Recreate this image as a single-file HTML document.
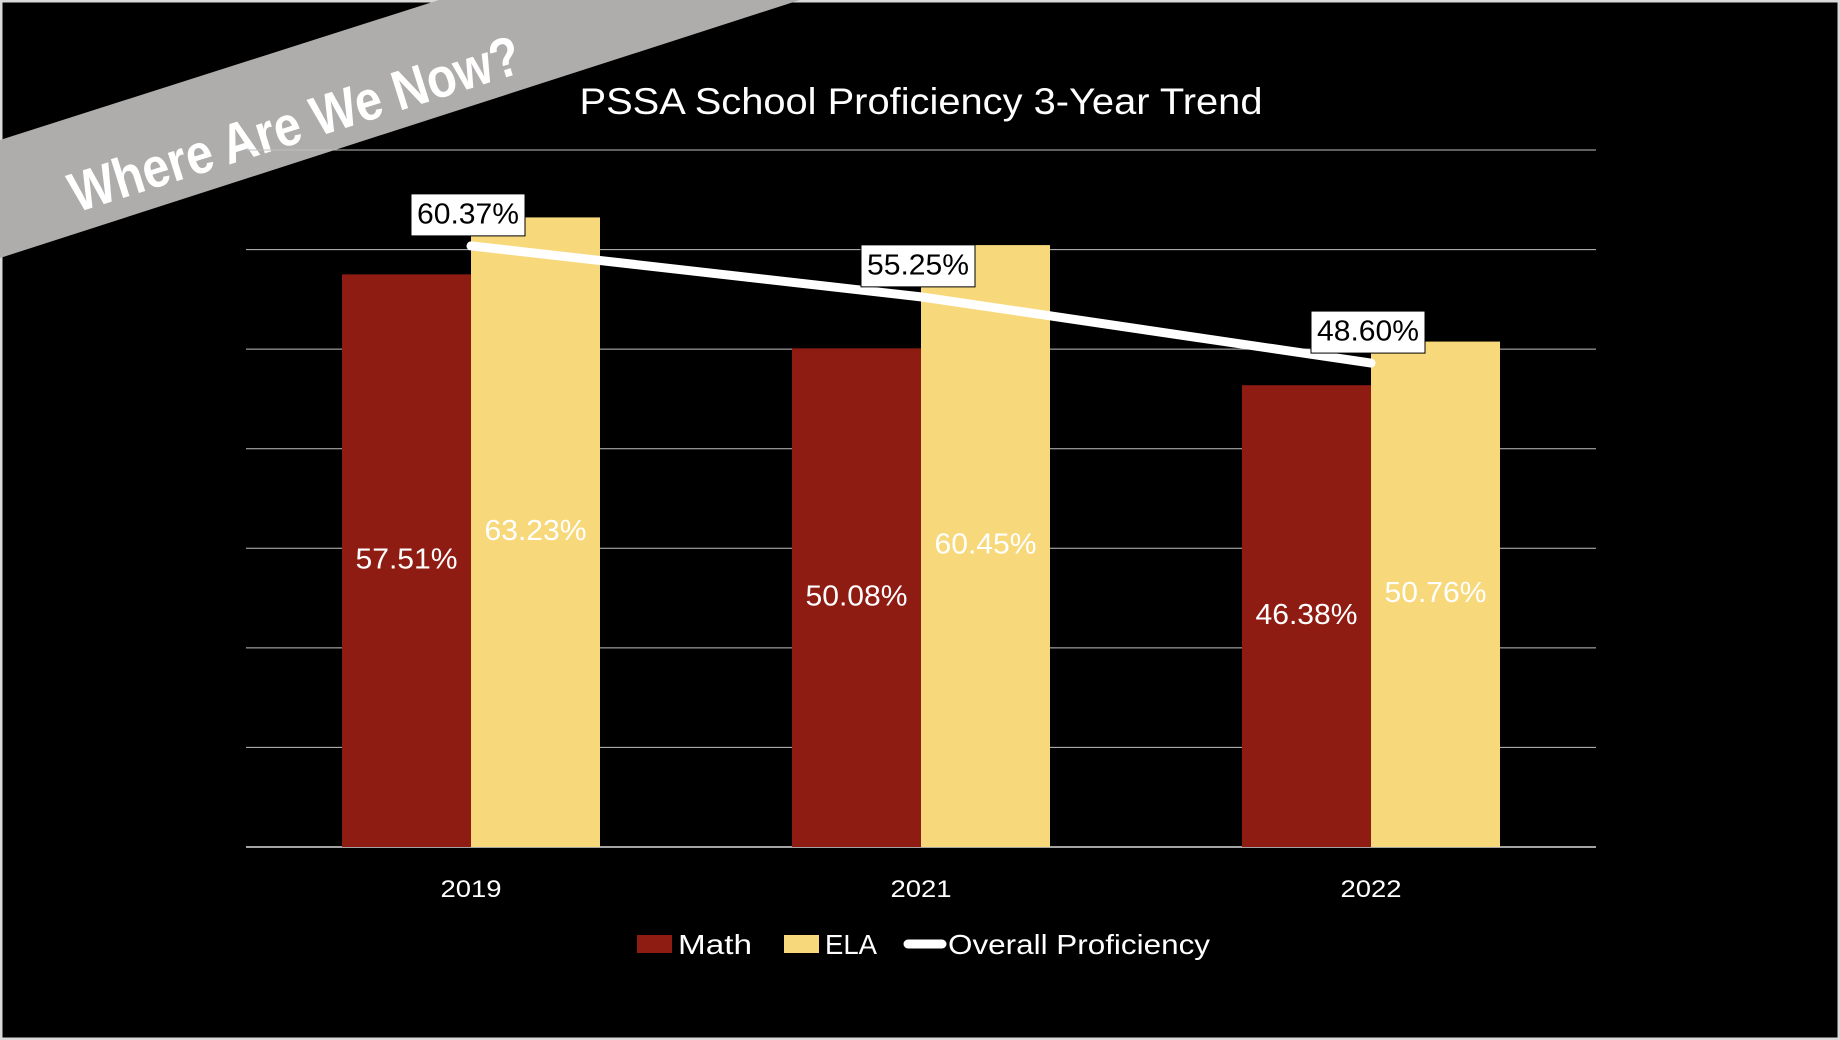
<!DOCTYPE html>
<html><head><meta charset="utf-8"><style>
html,body{margin:0;padding:0;background:#000;}
svg{display:block;font-family:"Liberation Sans",Arial,sans-serif;}
</style></head><body>
<svg id="chart" width="1840" height="1040" viewBox="0 0 1840 1040" xmlns="http://www.w3.org/2000/svg">
<rect x="1" y="1" width="1838" height="1038" fill="#000" stroke="#d9d9d9" stroke-width="3"/>
<polygon points="0,140 439,0 800,0 0,258" fill="#aeadab"/>
<text x="0" y="0" transform="translate(296,128) rotate(-17.5)" text-anchor="middle" dominant-baseline="middle" fill="#fff" font-size="56" font-weight="bold" textLength="470" lengthAdjust="spacingAndGlyphs">Where Are We Now?</text>
<text x="921" y="114" text-anchor="middle" fill="#fff" font-size="37" textLength="683" lengthAdjust="spacingAndGlyphs">PSSA School Proficiency 3-Year Trend</text>
<g id="grid"></g><g id="bars"></g><g id="line"></g><g id="labels"></g>
<g>
<rect x="637" y="935" width="35" height="18" fill="#8f1c13"/>
<text x="678" y="954" fill="#fff" font-size="28" textLength="74" lengthAdjust="spacingAndGlyphs">Math</text>
<rect x="784" y="935" width="35" height="18" fill="#f7d87a"/>
<text x="825" y="954" fill="#fff" font-size="28" textLength="52" lengthAdjust="spacingAndGlyphs">ELA</text>
<line x1="908" y1="944" x2="942" y2="944" stroke="#fff" stroke-width="9" stroke-linecap="round"/>
<text x="948" y="954" fill="#fff" font-size="28" textLength="262" lengthAdjust="spacingAndGlyphs">Overall Proficiency</text>
</g>
</svg>
<script>
const categories = ["2019","2021","2022"];
const mathValues = [57.51, 50.08, 46.38];
const elaValues = [63.23, 60.45, 50.76];
const overallValues = [60.37, 55.25, 48.60];
const gridTicks = [0,10,20,30,40,50,60,70];

const NS="http://www.w3.org/2000/svg";
const x0=246, x1=1596, y0=847, yTop=150, vMax=70;
const yScale=v=>y0-(v/vMax)*(y0-yTop);
const bandW=(x1-x0)/categories.length;
const xCenter=i=>x0+bandW*(i+0.5);
const barW=129;
function mk(tag,attrs,parent){const e=document.createElementNS(NS,tag);for(const k in attrs)e.setAttribute(k,attrs[k]);parent.appendChild(e);return e;}
const grid=document.getElementById('grid'),bars=document.getElementById('bars'),lineG=document.getElementById('line'),labels=document.getElementById('labels');
gridTicks.forEach(t=>{
  const l=mk('line',{x1:x0,x2:x1,y1:yScale(t),y2:yScale(t),stroke:t===0?'#d9d9d9':'#bfbfbf','stroke-width':t===0?1.5:1},grid);
  
  
});
categories.forEach((c,i)=>{
  const cx=xCenter(i);
  const m=mk('rect',{x:cx-barW,y:yScale(mathValues[i]),width:barW,height:y0-yScale(mathValues[i]),fill:'#8f1c13'},bars);
  
  
  const e=mk('rect',{x:cx,y:yScale(elaValues[i]),width:barW,height:y0-yScale(elaValues[i]),fill:'#f7d87a'},bars);
  
  
  const mt=mk('text',{x:cx-barW/2,y:(yScale(mathValues[i])+y0)/2,'text-anchor':'middle','dominant-baseline':'middle',fill:'#fff','font-size':29,textLength:102,lengthAdjust:'spacingAndGlyphs'},labels);
  mt.textContent=mathValues[i].toFixed(2)+'%';
  
  
  const et=mk('text',{x:cx+barW/2,y:(yScale(elaValues[i])+y0)/2,'text-anchor':'middle','dominant-baseline':'middle',fill:'#fff','font-size':29,textLength:102,lengthAdjust:'spacingAndGlyphs'},labels);
  et.textContent=elaValues[i].toFixed(2)+'%';
  
  
  const ct=mk('text',{x:cx,y:897,'text-anchor':'middle',fill:'#fff','font-size':24,textLength:61,lengthAdjust:'spacingAndGlyphs'},labels);
  ct.textContent=c;
  
  
});
const pts=overallValues.map((v,i)=>xCenter(i)+','+yScale(v)).join(' ');
const pl=mk('polyline',{points:pts,fill:'none',stroke:'#fff','stroke-width':9,'stroke-linecap':'round','stroke-linejoin':'round'},lineG);


overallValues.forEach((v,i)=>{
  const cx=xCenter(i)-3, cy=yScale(v)-31;
  const b=mk('rect',{x:cx-57,y:cy-21,width:114,height:42,fill:'#fff',stroke:'#000','stroke-width':1},labels);
  
  
  const t=mk('text',{x:cx,y:cy+1,'text-anchor':'middle','dominant-baseline':'middle',fill:'#000','font-size':29,textLength:102,lengthAdjust:'spacingAndGlyphs'},labels);
  t.textContent=v.toFixed(2)+'%';
  
  
});
</script>
</body></html>
